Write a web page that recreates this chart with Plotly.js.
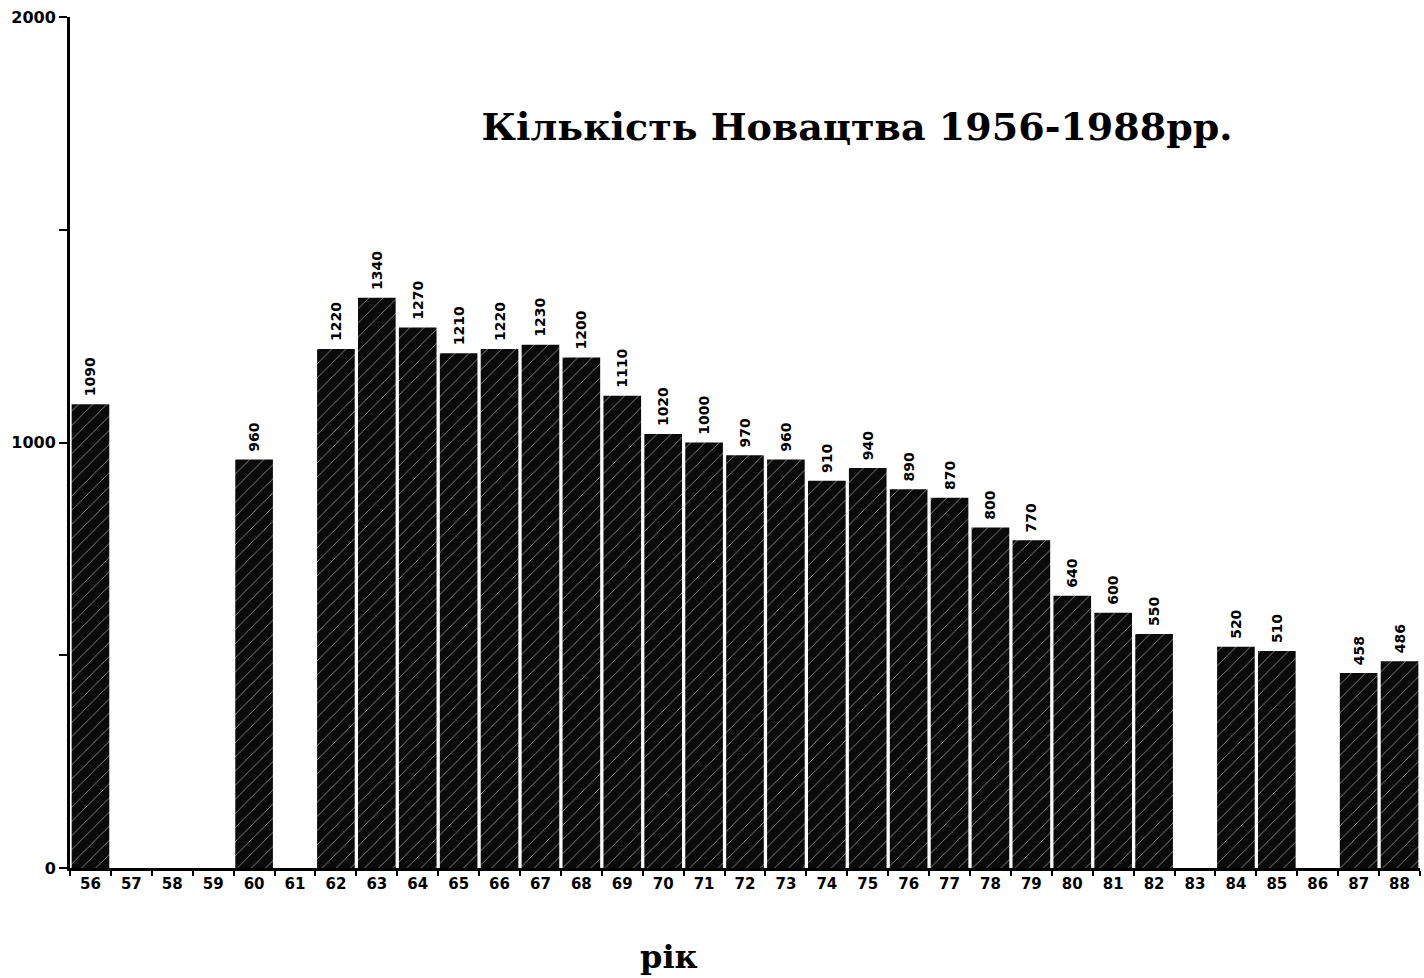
<!DOCTYPE html>
<html>
<head>
<meta charset="utf-8">
<script src="https://cdn.plot.ly/plotly-3.0.1.min.js"></script>
<style>html,body{margin:0;padding:0;background:#fff;}#chart{width:1424px;height:978px;}</style>
</head>
<body>
<div id="chart"></div>
<script>
const years = ["56","57","58","59","60","61","62","63","64","65","66","67","68","69","70","71","72","73","74","75","76","77","78","79","80","81","82","83","84","85","86","87","88"];
const counts = [1090,null,null,null,960,null,1220,1340,1270,1210,1220,1230,1200,1110,1020,1000,970,960,910,940,890,870,800,770,640,600,550,null,520,510,null,458,486];
const yTickVals = [0,500,1000,1500,2000];
const yTickText = ["0","","1000","","2000"];
const titleText = "Кількість Новацтва 1956-1988рр.";
const xTitleText = "рік";

const labels = counts.map(v => v === null ? "" : "\u00a0" + String(v));

const trace = {
  type: "bar",
  x: years,
  y: counts,
  text: labels,
  textposition: "outside",
  textangle: -90,
  constraintext: "none",
  cliponaxis: false,
  textfont: {family: "DejaVu Sans", size: 14, color: "#000", weight: "bold"},
  marker: {
    color: "#0a0a0a",
    line: {color: "#000", width: 0},
    pattern: {shape: "/", fgcolor: "#9a9a9a", bgcolor: "#0a0a0a", size: 10, solidity: 0.08}
  },
  hoverinfo: "skip"
};

const layout = {
  width: 1424, height: 978,
  margin: {l: 70, r: 4, t: 17, b: 110},
  paper_bgcolor: "#fff", plot_bgcolor: "#fff",
  showlegend: false,
  bargap: 0.08,
  title: {
    text: "<b>" + titleText + "</b>",
    font: {family: "DejaVu Serif", size: 38, color: "#000"},
    xref: "paper", x: 0.583, xanchor: "center",
    yref: "container", y: 0.870, yanchor: "middle"
  },
  xaxis: {
    type: "category",
    showline: true, linecolor: "#000", linewidth: 3,
    ticks: "outside", ticklen: 5, tickwidth: 2, tickcolor: "#000",
    tickson: "boundaries",
    tickfont: {family: "DejaVu Sans", size: 15, color: "#000", weight: "bold"},
    showgrid: false, zeroline: false,
    fixedrange: true
  },
  yaxis: {
    range: [0, 2000],
    tickvals: yTickVals, ticktext: yTickText,
    showline: true, linecolor: "#000", linewidth: 3,
    ticks: "outside", ticklen: 8, tickwidth: 2, tickcolor: "#000",
    tickfont: {family: "DejaVu Sans", size: 16, color: "#000", weight: "bold"},
    showgrid: false, zeroline: false,
    fixedrange: true
  },
  annotations: [{
    text: "<b>" + xTitleText + "</b>",
    xref: "paper", yref: "paper",
    x: 0.444, y: -0.104, xanchor: "center", yanchor: "middle",
    showarrow: false,
    font: {family: "DejaVu Serif", size: 32, color: "#000"}
  }]
};

Plotly.newPlot("chart", [trace], layout, {displayModeBar: false, staticPlot: true});
</script>
</body>
</html>
